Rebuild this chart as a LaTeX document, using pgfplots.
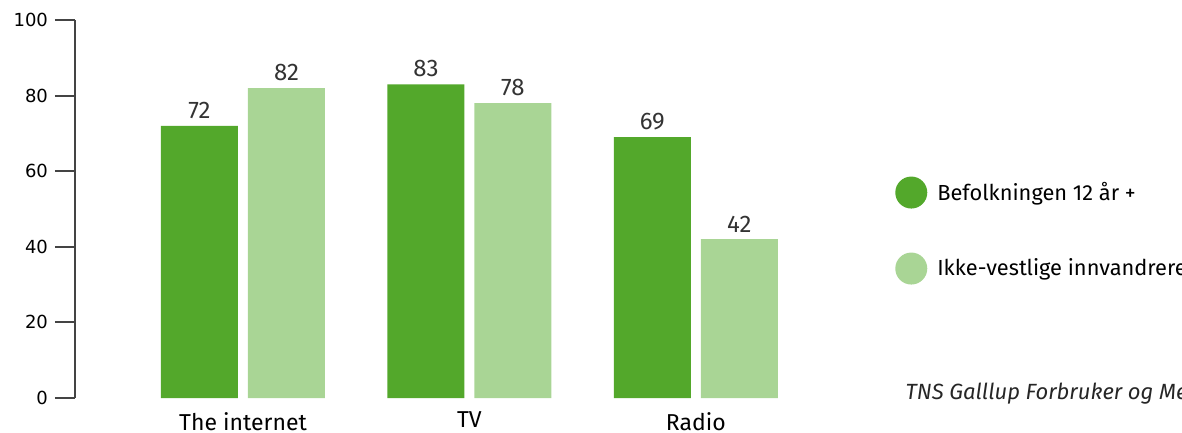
\documentclass[border=0pt]{standalone}
\usepackage{pgfplots}
\pgfplotsset{compat=1.18}
\usepackage{fontspec}
\setmainfont{Fira Sans}
\newfontfamily\tickfont{DejaVu Sans}
\definecolor{darkg}{HTML}{53A82B}
\definecolor{lightg}{HTML}{A9D595}
\definecolor{axisgray}{HTML}{444444}
\definecolor{valgray}{HTML}{333333}

\begin{document}
\begin{tikzpicture}
\path[use as bounding box] (-37.5pt,-17.5pt) rectangle (553.5pt,199pt);
\clip (-37.5pt,-17.5pt) rectangle (553.5pt,199pt);
\begin{axis}[
  at={(0,0)}, anchor=south west,
  scale only axis, width=367pt, height=189pt,
  xmin=-0.742, xmax=2.5, ymin=0, ymax=100,
  clip=false,
  ybar=5pt, bar width=38.5pt,
  axis y line=left, axis x line=bottom,
  axis line style={-},
  y axis line style={axisgray, line width=1pt},
  x axis line style={draw=none},
  xtick={0,1,2}, xticklabels={The internet, TV, Radio},
  xtick style={draw=none},
  xticklabel style={font=\fontsize{11.5}{13}\selectfont, text=black, yshift=1.5pt},
  ytick={0,20,40,60,80,100},
  ytick style={axisgray, line width=1pt},
  ytick align=outside, major tick length=10pt,
  yticklabel style={font=\tickfont\fontsize{9}{10}\selectfont, text=black},
  /pgf/number format/assume math mode=true,
  nodes near coords,
  every node near coord/.append style={font=\fontsize{12}{14}\selectfont, text=valgray},
  legend image code/.code={\fill[#1] (8pt,0pt) circle (8pt);},
  legend style={at={(rel axis cs:1.117,0.443)}, anchor=west, draw=none, fill=none,
    inner sep=0pt, row sep=22pt, font=\fontsize{10.9}{13}\selectfont,
    /tikz/every odd column/.style={column sep=3pt}},
  legend cell align=left,
]
\addplot[fill=darkg, draw=none] coordinates {(0,72) (1,83) (2,69)};
\addlegendentry{Befolkningen 12 år +}
\addplot[fill=lightg, draw=none] coordinates {(0,82) (1,78) (2,42)};
\addlegendentry{Ikke-vestlige innvandrere}
\node[anchor=base west, font=\itshape\fontsize{11}{13}\selectfont, text=black!85]
  at (rel axis cs:1.122,-0.005) {TNS Galllup Forbruker og Media};
\end{axis}
\end{tikzpicture}
\end{document}
